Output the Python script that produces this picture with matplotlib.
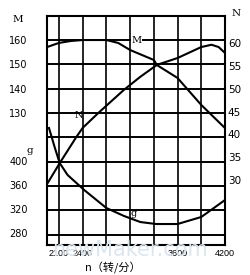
import matplotlib.pyplot as plt

# speed n (r/min) and curves
n_M = [1950, 2100, 2250, 2400, 2700, 2850, 3000, 3300, 3340, 3600, 3900, 4200]
M = [157.1, 158.8, 159.6, 160.0, 160.0, 158.8, 155.9, 151.8, 149.7, 144.4, 133.3, 123.8]

n_N = [1960, 2110, 2320, 2400, 2600, 2920, 3130, 3340, 3600, 3900, 4030, 4120, 4200]
N = [29.4, 33.7, 39.4, 41.4, 44.7, 49.7, 52.6, 55.2, 56.7, 59.1, 59.6, 59.1, 57.8]

n_g = [1975, 2050, 2110, 2210, 2420, 2700, 2925, 3130, 3330, 3600, 3900, 4200]
g = [455, 421.7, 396.7, 376.7, 351.7, 321.7, 308.3, 298.3, 295, 295, 306.7, 335]

x_ticks = [2100, 2400, 3600, 4200]
x_grid = [2100, 2400, 2700, 3000, 3300, 3600, 3900]
M_ticks = [130, 140, 150, 160]
M_grid = [80, 90, 100, 110, 120, 130, 140, 150, 160]
g_ticks = [280, 320, 360, 400]
N_ticks = [30, 35, 40, 45, 50, 55, 60]

fig = plt.figure(figsize=(2.5, 2.75), dpi=100)
ax = fig.add_axes([0.188, 0.109, 0.712, 0.833])
ax.set_xlim(1950, 4200)
ax.set_ylim(75.7, 169.9)

for x in x_grid:
    ax.axvline(x, color='black', lw=1.2, zorder=1)
for y in M_grid:
    ax.axhline(y, color='black', lw=1.4, zorder=1)

ax.plot(n_M, M, color='black', lw=1.5, zorder=3)
ax.set_xticks(x_ticks)
ax.set_yticks(M_ticks)
ax.tick_params(axis='both', length=0, labelsize=7)
ax.tick_params(axis='y', pad=14)
ax.tick_params(axis='x', pad=3)
for lab in ax.get_xticklabels():
    lab.set_family('Liberation Sans')
    lab.set_fontsize(6.5)
for s in ax.spines.values():
    s.set_linewidth(1.5)

ax_g = ax.twinx()
ax_g.set_ylim(260, 641.7)
ax_g.plot(n_g, g, color='black', lw=1.5, zorder=3)
ax_g.yaxis.tick_left()
ax_g.set_yticks(g_ticks)
ax_g.tick_params(axis='y', length=0, labelsize=7, pad=14)
ax_g.spines[:].set_visible(False)

ax_N = ax.twinx()
ax_N.set_ylim(15.8, 65.9)
ax_N.plot(n_N, N, color='black', lw=1.5, zorder=3)
ax_N.set_yticks(N_ticks)
ax_N.tick_params(axis='y', length=0, labelsize=7.5, pad=2)
ax_N.spines[:].set_visible(False)

ax.set_xlabel('n（转/分）', family=['Noto Sans CJK SC', 'DejaVu Sans'], fontsize=8)
ax.xaxis.set_label_coords(0.37, -0.075)

# axis names and curve labels
fig.text(0.05, 0.92, 'M', fontsize=7.5, family='DejaVu Serif')
fig.text(0.925, 0.94, 'N', fontsize=7.5, family='DejaVu Serif')
fig.text(0.105, 0.445, 'g', fontsize=7.5, family='DejaVu Serif')
ax.text(3080, 160, 'M', fontsize=7, family='DejaVu Serif', ha='center', va='center',
        bbox=dict(fc='white', ec='none', pad=0.5), zorder=4)
ax_N.text(2350, 44.2, 'N', fontsize=7, family='DejaVu Serif', ha='center', va='center', zorder=4)
ax_g.text(3050, 313, 'g', fontsize=7, family='DejaVu Serif', ha='center', va='center', zorder=4)

# watermark
fig.text(0.52, 0.09, 'newMaker.com', fontsize=15, color='#dce6ef', ha='center', va='center', zorder=0)

fig.savefig('out.png', dpi=100)
